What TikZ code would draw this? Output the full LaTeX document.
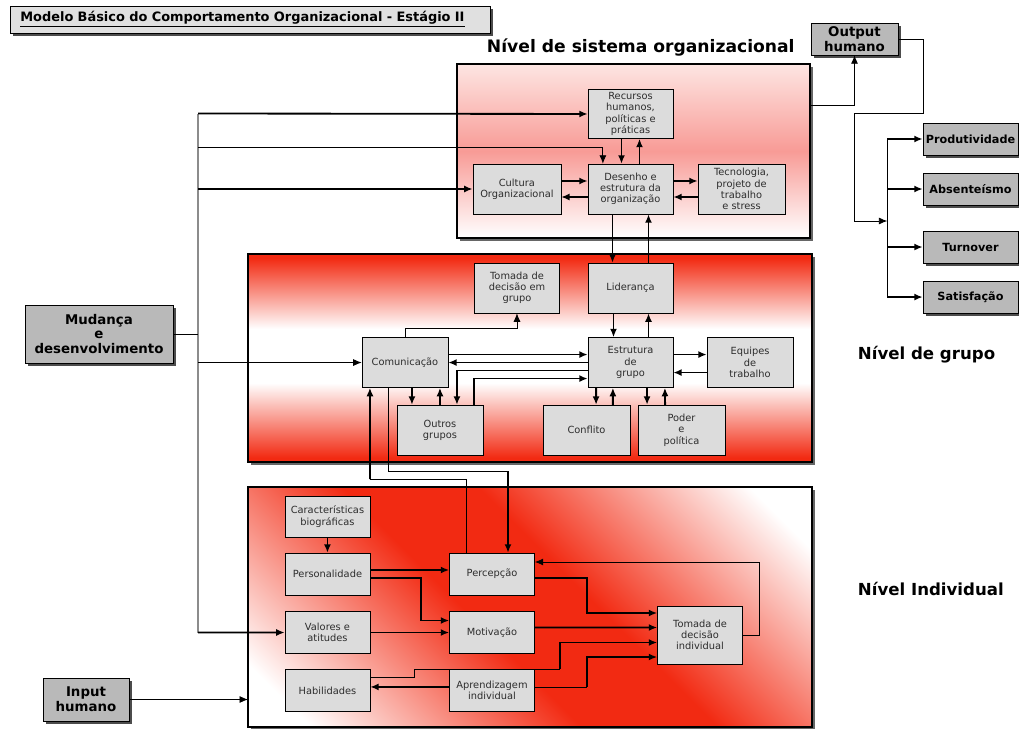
\documentclass[tikz,border=0pt]{standalone}
\usepackage{fontspec}
\setmainfont{DejaVu Sans}
\usepackage{tikz}
\usetikzlibrary{shapes, arrows.meta, positioning, shadows}
\definecolor{pred}{RGB}{242,42,18}
\definecolor{ppink}{RGB}{248,155,150}
\definecolor{boxgray}{RGB}{220,220,220}
\definecolor{outgray}{RGB}{185,185,185}
\definecolor{txtgray}{RGB}{45,45,45}
\pgfdeclareverticalshading{grpshade}{100bp}{color(0bp)=(pred); color(26bp)=(pred); color(44bp)=(white); color(57bp)=(white); color(74bp)=(pred); color(100bp)=(pred)}
\pgfdeclareverticalshading{indshade}{100bp}{color(0bp)=(white); color(20bp)=(white); color(44bp)=(pred); color(56bp)=(pred); color(80bp)=(white); color(100bp)=(white)}
\tikzstyle{block} = [draw, fill=boxgray, rectangle, minimum width=2.125cm, minimum height=1.25cm, inner sep=1pt, align=center, text=txtgray, font=\fontsize{7}{8}\selectfont]
\tikzstyle{sblock} = [block, minimum height=1.05cm]
\tikzstyle{outbox} = [draw, fill=outgray, rectangle, align=center, inner sep=1pt, font=\bfseries\fontsize{9.5}{10.5}\selectfont, drop shadow={shadow xshift=2pt, shadow yshift=-2pt, fill=black!70, opacity=1}]
\tikzstyle{resbox} = [outbox, minimum width=2.375cm, minimum height=0.8cm, font=\bfseries\fontsize{8}{9}\selectfont]
\tikzstyle{panel} = [draw, line width=0.8pt, drop shadow={shadow xshift=2pt, shadow yshift=-2pt, fill=black!60, opacity=1}]
\tikzstyle{level} = [anchor=west, font=\bfseries\fontsize{11.8}{13}\selectfont]
\tikzstyle{tk} = [line width=1.3pt]
\tikzstyle{tn} = [line width=0.6pt]
\tikzstyle{bus} = [line width=1pt, black!45]

\begin{document}
\begin{tikzpicture}[>={Latex[length=6pt,width=5pt]}, x=0.025cm, y=-0.025cm]
  \useasboundingbox (0,0) rectangle (1019,729);

  \node[outbox, fill=black!12, anchor=west, text width=11.5cm, inner xsep=0.25cm, minimum height=0.675cm, align=left, font=\bfseries\fontsize{9.2}{10}\selectfont] (title) at (10,19.5) {\underline{Modelo Básico do Comportamento Organizacional - Estágio II}};

  % levels
  \draw[panel, top color=pred!12, bottom color=white, middle color=ppink] (457,64) rectangle (810,238);
  \draw[panel, shade, shading=grpshade] (248,254) rectangle (812,462);
  \draw[panel, shade, shading=indshade, shading angle=-45] (248,487) rectangle (812,727);
  \node[level, font=\bfseries\fontsize{12.2}{13}\selectfont] (lorg) at (482,47) {Nível de sistema organizacional};
  \node[level] (lgrp) at (853,355) {Nível de grupo};
  \node[level] (lind) at (853,589) {Nível Individual};

  \node[outbox, minimum width=3.7cm, minimum height=1.45cm] (mud) at (99,334) {Mudança\\e\\desenvolvimento};
  \node[outbox, minimum width=2.15cm, minimum height=1.075cm] (inp) at (86,699.5) {Input\\humano};
  \node[outbox, minimum width=2.175cm, minimum height=0.8cm] (outh) at (854.5,39) {Output\\humano};
  \node[resbox] (prod) at (970.5,139) {Produtividade};
  \node[resbox, below of=prod, node distance=1.25cm] (absent) {Absenteísmo};
  \node[resbox, below of=absent, node distance=1.45cm] (turn) {Turnover};
  \node[resbox, below of=turn, node distance=1.25cm] (satis) {Satisfação};

  % organizacional
  \node[block] (des) at (630.5,189) {Desenho e\\estrutura da\\organização};
  \node[block, left of=des, node distance=2.84cm, minimum width=2.2cm] (cult) {Cultura\\Organizacional};
  \node[block, right of=des, node distance=2.775cm, minimum width=2.175cm] (tec) {Tecnologia,\\projeto de\\trabalho\\e stress};
  \node[block, above of=des, node distance=1.875cm, minimum height=1.225cm] (rh) {Recursos\\humanos,\\políticas e\\práticas};

  % grupo
  \node[block, below of=des, node distance=2.475cm] (lid) {Liderança};
  \node[block, below of=lid, node distance=1.8625cm] (est) {Estrutura\\de\\grupo};
  \node[block, left of=lid, node distance=2.8375cm] (tdg) {Tomada de\\decisão em\\grupo};
  \node[block, left of=est, node distance=5.6375cm, minimum width=2.15cm] (com) {Comunicação};
  \node[block, right of=est, node distance=2.9875cm, minimum width=2.15cm] (equ) {Equipes\\de\\trabalho};
  \node[block, below of=est, node distance=1.6875cm, xshift=-1.1cm, minimum width=2.175cm] (conf) {Conflito};
  \node[block, below of=est, node distance=1.6875cm, xshift=1.275cm, minimum width=2.175cm] (pod) {Poder\\e\\política};
  \node[block, below of=com, node distance=1.6875cm, xshift=0.875cm, minimum width=2.15cm] (out) {Outros\\grupos};

  % individual
  \node[sblock] (perc) at (492,574) {Percepção};
  \node[sblock, left of=perc, node distance=4.1125cm] (pers) {Personalidade};
  \node[sblock, above of=pers, node distance=1.4375cm, minimum height=1.025cm] (car) {Características\\biográficas};
  \node[sblock, below of=pers, node distance=1.4625cm] (val) {Valores e\\atitudes};
  \node[sblock, below of=val, node distance=1.45cm] (hab) {Habilidades};
  \node[sblock, below of=perc, node distance=1.4625cm] (mot) {Motivação};
  \node[sblock, below of=mot, node distance=1.45cm] (apr) {Aprendizagem\\individual};
  \node[block, minimum height=1.45cm] (tdi) at (700,635) {Tomada de\\decisão\\individual};

  \coordinate (bt) at (198,113.5);
  \coordinate (b2) at (198,147);
  \coordinate (bb) at (198,632.5);
  \coordinate (p1e) at (810,105);
  \coordinate (p3w) at (248,700);
  \coordinate (pc) at (370,479);
  \coordinate (cp) at (508,471);
  \coordinate (hb) at (560,669);

  % bus
  \draw[bus] (bt) -- (bb);
  \draw[tn] (mud.east) -- (mud.east -| bt);
  \draw[tk,->] (bt) -- (rh.west);
  \draw[tn,->] (b2) -| ([xshift=-6.9mm]des.north);
  \draw[tk,->] (bt |- cult) -- (cult.west);
  \draw[tn,->] (bt |- com) -- (com.west);
  \draw[tk,->] (bb) -- (val.west);
  \draw[tn,->] (inp.east) -- (inp.east -| p3w);

  \draw[tk,->] ([yshift=2mm]cult.east) -- ([yshift=2mm]des.west);
  \draw[tk,->] ([yshift=-2mm]des.west) -- ([yshift=-2mm]cult.east);
  \draw[tk,->] ([yshift=2mm]des.east) -- ([yshift=2mm]tec.west);
  \draw[tk,->] ([yshift=-2mm]tec.west) -- ([yshift=-2mm]des.east);
  \draw[tk,->] ([xshift=-2.25mm]rh.south) -- ([xshift=-2.25mm]des.north);
  \draw[tk,->] ([xshift=2.25mm]des.north) -- ([xshift=2.25mm]rh.south);
  \draw[tk,->] ([xshift=-4.5mm]des.south) -- ([xshift=-4.5mm]lid.north);
  \draw[tk,->] ([xshift=4.5mm]lid.north) -- ([xshift=4.5mm]des.south);

  % output
  \draw[tn,->] (p1e) -| (outh.south);
  \draw[tn] (outh.east) -- ++(25,0) -- ++(0,74) -- ++(-69,0) -- ++(0,108) coordinate (oc);
  \draw[tn,->] (oc) -- ++(33,0) coordinate (ob);
  \draw[tn] (ob |- prod) -- (ob |- satis);
  \foreach \r in {prod,absent,turn,satis}
    \draw[tk,->] (ob |- \r) -- (\r.west);

  % grupo
  \draw[tk,->] ([xshift=-4.25mm]lid.south) -- ([xshift=-4.25mm]est.north);
  \draw[tk,->] ([xshift=4.5mm]est.north) -- ([xshift=4.5mm]lid.south);
  \draw[tn,->] (com.north) -- ++(0,-8.5) -| (tdg.south);
  \draw[tk,->] ([yshift=2mm]com.east) -- ([yshift=2mm]est.west);
  \draw[tk,->] (est.west) -- (com.east);
  \draw[tk,->] ([yshift=-2mm]est.west) -| ([xshift=4.25mm]out.north);
  \draw[tk,->] ([xshift=8.5mm]out.north) |- ([yshift=-4mm]est.west);
  \draw[tk,->] ([xshift=1.75mm]com.south) -- ([xshift=-7mm]out.north);
  \draw[tk,->] (out.north) -- ([xshift=8.75mm]com.south);
  \draw[tk,->] ([yshift=2mm]est.east) -- ([yshift=2mm]equ.west);
  \draw[tk,->] ([yshift=-2.5mm]equ.west) -- ([yshift=-2.5mm]est.east);
  \draw[tk,->] ([xshift=-8.6mm]est.south) -- ([xshift=2.4mm]conf.north);
  \draw[tk,->] ([xshift=6.6mm]conf.north) -- ([xshift=-4.4mm]est.south);
  \draw[tk,->] ([xshift=4.1mm]est.south) -- ([xshift=-8.6mm]pod.north);
  \draw[tk,->] ([xshift=-4.1mm]pod.north) -- ([xshift=8.6mm]est.south);

  % grupo <-> individual
  \draw[tn] ([xshift=-6.5mm]perc.north) |- (pc);
  \draw[tk,->] (pc) -- ([xshift=-8.75mm]com.south);
  \draw[tn] ([xshift=-4.25mm]com.south) |- (cp);
  \draw[tk,->] (cp) -- ([xshift=4mm]perc.north);

  % individual
  \draw[tk,->] (car) -- (pers);
  \draw[tk,->] ([yshift=1mm]pers.east) -- ([yshift=1mm]perc.west);
  \draw[tk,->] ([yshift=-1mm]pers.east) -- ++(51,0) |- ([yshift=3mm]mot.west);
  \draw[tk,->] (val) -- (mot);
  \draw[tk,->] ([yshift=-1mm]perc.east) -- ++(52,0) |- ([yshift=5.5mm]tdi.west);
  \draw[tk,->] ([yshift=1.25mm]mot.east) -- ([yshift=1.875mm]tdi.west);
  \draw[tn] ([yshift=3.4mm]hab.east) -- ++(44,0) |- (hb);
  \draw[tk,->] (hb) |- ([yshift=-1.875mm]tdi.west);
  \draw[tk,->] ([yshift=0.9mm]apr.west) -- ([yshift=0.9mm]hab.east);
  \draw[tn] ([yshift=0.9mm]apr.east) -- ++(52,0) coordinate (ab);
  \draw[tk,->] (ab) |- ([yshift=-5.5mm]tdi.west);
  \draw[tn,->] (tdi.east) -- ++(17,0) |- ([yshift=3mm]perc.east);

\end{tikzpicture}
\end{document}
